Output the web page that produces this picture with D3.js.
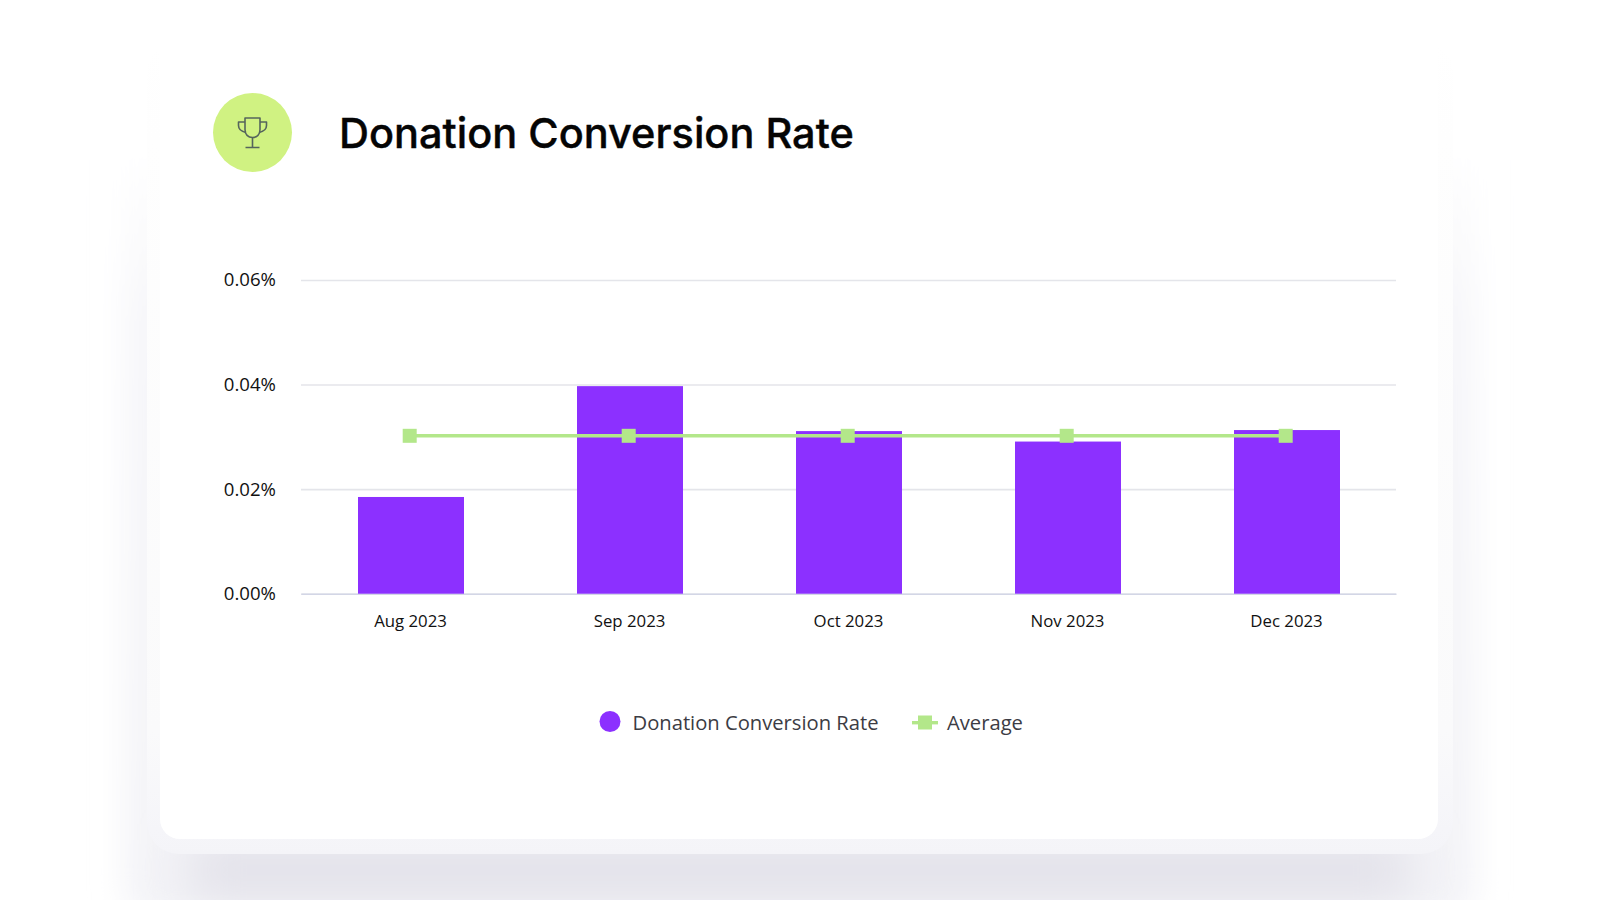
<!DOCTYPE html>
<html>
<head>
<meta charset="utf-8">
<script src="https://cdn.jsdelivr.net/npm/d3@7"></script>
<style>
  html, body { margin: 0; background: #fff; overflow: hidden; }
  text { font-family: "Open Sans", sans-serif; }
</style>
</head>
<body>
<div id="chart"></div>
<script>
// Chart data
const months = ["Aug 2023", "Sep 2023", "Oct 2023", "Nov 2023", "Dec 2023"];
const conversionRate = [0.0185, 0.0397, 0.0311, 0.0291, 0.0313];
const average = [0.0302, 0.0302, 0.0302, 0.0302, 0.0302];
const yTicks = [0, 0.02, 0.04, 0.06];
const legendLabels = ["Donation Conversion Rate", "Average"];
const chartTitle = "Donation Conversion Rate";

const PLOT = {LEFT: 301, RIGHT: 1396, TOP: 280, BOTTOM: 593.7};
const PURPLE = "#8c30ff";
const GREEN = "#b3e78a";

const svg = d3.select("#chart").append("svg")
  .attr("width", 1600)
  .attr("height", 900);

const defs = svg.append("defs");
const blur = (id, dev) => defs.append("filter").attr("id", id)
  .attr("x", "-20%").attr("y", "-50%")
  .attr("width", "140%").attr("height", "200%")
  .append("feGaussianBlur").attr("stdDeviation", dev);
blur("soft", 16);
blur("softer", 24);

// Everything fades out towards the top of the card
function fade(id, stops) {
  const grad = defs.append("linearGradient").attr("id", id)
    .attr("x1", 0).attr("y1", 0).attr("x2", 0).attr("y2", 1);
  stops.forEach(s => grad.append("stop")
    .attr("offset", s[0]).attr("stop-color", s[1]));
}
fade("sideFade", [[0, "#ffffff"], [0.1, "#ffffff"], [0.3, "#f6f6f9"], [1, "#f3f3f7"]]);
fade("rimFade", [[0, "#ffffff"], [0.12, "#fefefe"], [0.85, "#fafafb"], [0.97, "#f5f5f9"], [1, "#f4f4f8"]]);

// Card and its shadow
svg.append("rect")
  .attr("x", 125).attr("y", 60).attr("width", 1350).attr("height", 860)
  .attr("rx", 30).attr("fill", "url(#sideFade)")
  .attr("filter", "url(#soft)");
svg.append("rect")
  .attr("x", 190).attr("y", 840).attr("width", 1220).attr("height", 60)
  .attr("fill", "#e2e1e9")
  .attr("filter", "url(#softer)");
svg.append("rect")
  .attr("x", 147).attr("y", 40).attr("width", 1306).attr("height", 814)
  .attr("rx", 32).attr("fill", "url(#rimFade)");
svg.append("rect")
  .attr("x", 160).attr("y", 30).attr("width", 1278).attr("height", 809)
  .attr("rx", 20).attr("fill", "#fff");

// Header
svg.append("circle")
  .attr("cx", 252.5).attr("cy", 132.5).attr("r", 39.5)
  .attr("fill", "#d0f282");

const trophy = svg.append("g")
  .attr("transform", "translate(252.5,132.5)")
  .attr("fill", "none")
  .attr("stroke", "#55655c")
  .attr("stroke-width", 1.6)
  .attr("stroke-linejoin", "round");
trophy.append("path").attr("d", "M-7.5,-14.5H7.5V-3C7.5,2 4.5,5 0,5C-4.5,5 -7.5,2 -7.5,-3Z");
trophy.append("path").attr("d", "M-7.5,-10.5H-14V-7C-14,-3 -11,-1 -6.5,0");
trophy.append("path").attr("d", "M7.5,-10.5H14V-7C14,-3 11,-1 6.5,0");
trophy.append("path").attr("d", "M0,5V15M-7,15H7");

svg.append("text")
  .attr("x", 339).attr("y", 148)
  .attr("fill", "#050505")
  .style("font-family", "Inter")
  .style("font-size", "41.5px")
  .style("font-weight", 500)
  .style("stroke", "#050505")
  .style("stroke-width", 0.4)
  .text(chartTitle);

// Scales
const x = d3.scaleBand().domain(months).range([PLOT.LEFT, PLOT.RIGHT])
  .paddingInner(0.516).paddingOuter(0.258);
const y = d3.scaleLinear().domain([0, 0.06]).range([PLOT.BOTTOM, PLOT.TOP]);

// Axes
const yAxis = svg.append("g")
  .attr("transform", `translate(${PLOT.LEFT},0)`)
  .call(d3.axisLeft(y).tickValues(yTicks)
    .tickFormat(d => d3.format(".2f")(d) + "%")
    .tickSize(-(PLOT.RIGHT - PLOT.LEFT)).tickPadding(25));
yAxis.select(".domain").remove();
yAxis.selectAll(".tick line").attr("stroke", "#e4e5ea").attr("stroke-width", 1.6);
yAxis.selectAll(".tick text")
  .attr("fill", "#111").attr("dy", "0.32em")
  .style("font-size", "18.6px").style("font-family", "'Open Sans'");

const xAxis = svg.append("g")
  .attr("transform", `translate(0,${PLOT.BOTTOM})`)
  .call(d3.axisBottom(x).tickSize(0).tickPadding(21));
xAxis.select(".domain").attr("stroke", "#d3d6e6").attr("stroke-width", 1.6);
xAxis.selectAll(".tick text")
  .attr("fill", "#111").style("font-size", "16.8px").style("font-family", "'Open Sans'");

// Bars
svg.append("g").selectAll("rect")
  .data(conversionRate)
  .join("rect")
  .attr("x", (d, i) => x(months[i]) + 0.5)
  .attr("y", d => y(d))
  .attr("width", x.bandwidth())
  .attr("height", d => y(0) - y(d))
  .attr("fill", PURPLE);

// Average line, sits a touch left of the bar centres
const lineX = (d, i) => x(months[i]) + x.bandwidth() / 2 - 0.8;
svg.append("path")
  .datum(average)
  .attr("fill", "none")
  .attr("stroke", GREEN)
  .attr("stroke-width", 3.4)
  .attr("d", d3.line().x(lineX).y(d => y(d)));

svg.append("g").selectAll("rect")
  .data(average)
  .join("rect")
  .attr("x", (d, i) => lineX(d, i) - 7)
  .attr("y", d => y(d) - 7)
  .attr("width", 14)
  .attr("height", 14)
  .attr("fill", GREEN);

// Legend
const legend = svg.append("g").style("font-size", "20.2px").attr("fill", "#3c3c44");
legend.append("circle").attr("cx", 610).attr("cy", 721.5).attr("r", 10.5).attr("fill", PURPLE);
legend.append("text").attr("x", 632.5).attr("y", 729.5).text(legendLabels[0]);
legend.append("rect").attr("x", 912).attr("y", 721).attr("width", 26).attr("height", 3.4).attr("fill", GREEN);
legend.append("rect").attr("x", 918).attr("y", 715.5).attr("width", 14).attr("height", 14).attr("fill", GREEN);
legend.append("text").attr("x", 947).attr("y", 729.5).text(legendLabels[1]);
</script>
</body>
</html>
